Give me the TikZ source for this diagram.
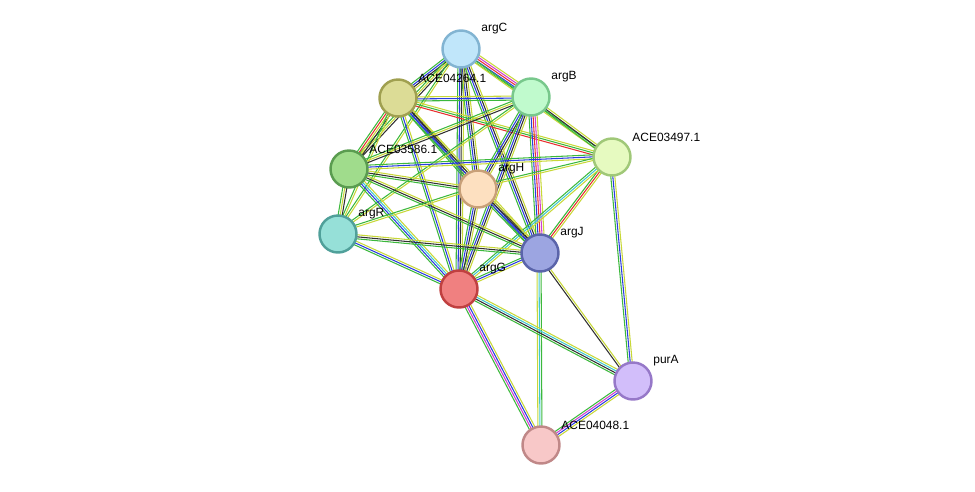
\documentclass[tikz,border=0pt]{standalone}
\usepackage{fontspec}
\setmainfont{Liberation Sans}
\usetikzlibrary{calc}

\definecolor{sgreen}{HTML}{3CB83C}
\definecolor{sblue}{HTML}{2A3CE0}
\definecolor{syel}{HTML}{C8D838}
\definecolor{sred}{HTML}{E83030}
\definecolor{smag}{HTML}{D040D0}
\definecolor{scyan}{HTML}{40C8D0}
\definecolor{sblack}{HTML}{303030}

\tikzset{
  prot/.style={circle, minimum size=0.74cm, inner sep=0pt, line width=1.4pt},
  lab/.style={anchor=south west, inner sep=0.5pt, xshift=3pt, font=\fontsize{6.8}{8}\selectfont},
  link/.style={line width=0.6pt}
}

\newcommand{\stredge}[3]{%
  \foreach \c [count=\i] in {#3} {
    \draw[link, \c] ($(#1)!{(\i-2.5)*1.15pt}!90:(#2)$) -- ($(#2)!{(\i-2.5)*1.15pt}!-90:(#1)$);
  }%
}

\begin{document}
\begin{tikzpicture}[x=0.02cm, y=-0.02cm]
\useasboundingbox (0,0) rectangle (975,491);

% positions
\coordinate (argC) at (461,49);
\coordinate (A264) at (398,98);
\coordinate (argB) at (531,97);
\coordinate (A497) at (612,157);
\coordinate (A586) at (349,169);
\coordinate (argH) at (478,189);
\coordinate (argR) at (338,234);
\coordinate (argJ) at (540,253);
\coordinate (argG) at (459,289);
\coordinate (purA) at (633,381);
\coordinate (A048) at (541,445);

% links
\stredge{argC}{A264}{sgreen,sblue,sblack,syel}
\stredge{argC}{argB}{sgreen,sblue,sred,smag,syel}
\stredge{argC}{A497}{syel,sgreen}
\stredge{argC}{A586}{sgreen,syel,sblack}
\stredge{argC}{argH}{sgreen,sblue,sblack,syel}
\stredge{argC}{argR}{sgreen,syel}
\stredge{argC}{argJ}{sgreen,sblue,sblack,syel}
\stredge{argC}{argG}{sgreen,sblue,sblack,syel}
\stredge{A264}{argB}{sgreen,sblue,syel}
\stredge{A264}{A497}{sred,sgreen,syel}
\stredge{A264}{A586}{sgreen,sred,syel,sblack}
\stredge{A264}{argH}{sgreen,sblue,sblack,syel}
\stredge{A264}{argR}{sgreen,syel}
\stredge{A264}{argJ}{sgreen,sblue,sblack,syel}
\stredge{A264}{argG}{sgreen,sblue,syel}
\stredge{argB}{A497}{sgreen,sblack,syel}
\stredge{argB}{A586}{sgreen,syel,sblack}
\stredge{argB}{argH}{sgreen,sblue,sblack,syel}
\stredge{argB}{argR}{sgreen,syel}
\stredge{argB}{argJ}{sgreen,sblue,sred,smag,syel}
\stredge{argB}{argG}{sgreen,sblue,sblack,syel}
\stredge{A497}{A586}{sgreen,sblue,syel}
\stredge{A497}{argH}{sgreen,syel}
\stredge{A497}{argJ}{sgreen,sred,syel}
\stredge{A497}{argG}{sgreen,scyan,syel}
\stredge{A497}{purA}{sgreen,sblue,syel}
\stredge{A586}{argH}{sgreen,sblack,syel}
\stredge{A586}{argR}{sgreen,syel,sblack}
\stredge{A586}{argJ}{sgreen,sblack,syel}
\stredge{A586}{argG}{sgreen,sblue,scyan,syel}
\stredge{argH}{argR}{sgreen,syel}
\stredge{argH}{argJ}{sgreen,sblue,sblack,syel}
\stredge{argH}{argG}{sgreen,sblue,sblack,syel}
\stredge{argR}{argJ}{sgreen,sblack,syel}
\stredge{argR}{argG}{sgreen,sblue,syel}
\stredge{argJ}{argG}{sgreen,sblue,syel}
\stredge{argJ}{purA}{sblack,syel}
\stredge{argJ}{A048}{syel,scyan,sgreen}
\stredge{argG}{purA}{sgreen,sblack,scyan,syel}
\stredge{argG}{A048}{sgreen,smag,sblue,syel}
\stredge{purA}{A048}{sgreen,smag,sblue,syel}

% proteins
\node[prot, fill={rgb,255:red,192;green,230;blue,250}, draw={rgb,255:red,130;green,180;blue,210}, label={[lab]45:argC}] (nC) at (argC) {};
\node[prot, fill={rgb,255:red,220;green,220;blue,150}, draw={rgb,255:red,160;green,160;blue,80}, label={[lab]45:ACE04264.1}] (n264) at (A264) {};
\node[prot, fill={rgb,255:red,192;green,250;blue,205}, draw={rgb,255:red,120;green,200;blue,140}, label={[lab]45:argB}] (nB) at (argB) {};
\node[prot, fill={rgb,255:red,230;green,250;blue,192}, draw={rgb,255:red,160;green,200;blue,120}, label={[lab]45:ACE03497.1}] (n497) at (A497) {};
\node[prot, fill={rgb,255:red,160;green,220;blue,140}, draw={rgb,255:red,90;green,156;blue,80}, label={[lab]45:ACE03586.1}] (n586) at (A586) {};
\node[prot, fill={rgb,255:red,253;green,224;blue,192}, draw={rgb,255:red,200;green,160;blue,120}, label={[lab]45:argH}] (nH) at (argH) {};
\node[prot, fill={rgb,255:red,150;green,224;blue,216}, draw={rgb,255:red,80;green,160;blue,154}, label={[lab]45:argR}] (nR) at (argR) {};
\node[prot, fill={rgb,255:red,156;green,165;blue,225}, draw={rgb,255:red,90;green,100;blue,170}, label={[lab]45:argJ}] (nJ) at (argJ) {};
\node[prot, fill={rgb,255:red,240;green,128;blue,128}, draw={rgb,255:red,192;green,64;blue,64}, label={[lab]45:argG}] (nG) at (argG) {};
\node[prot, fill={rgb,255:red,210;green,190;blue,250}, draw={rgb,255:red,150;green,120;blue,200}, label={[lab]45:purA}] (nP) at (purA) {};
\node[prot, fill={rgb,255:red,248;green,200;blue,200}, draw={rgb,255:red,192;green,136;blue,136}, label={[lab]45:ACE04048.1}] (n048) at (A048) {};

\end{tikzpicture}
\end{document}
